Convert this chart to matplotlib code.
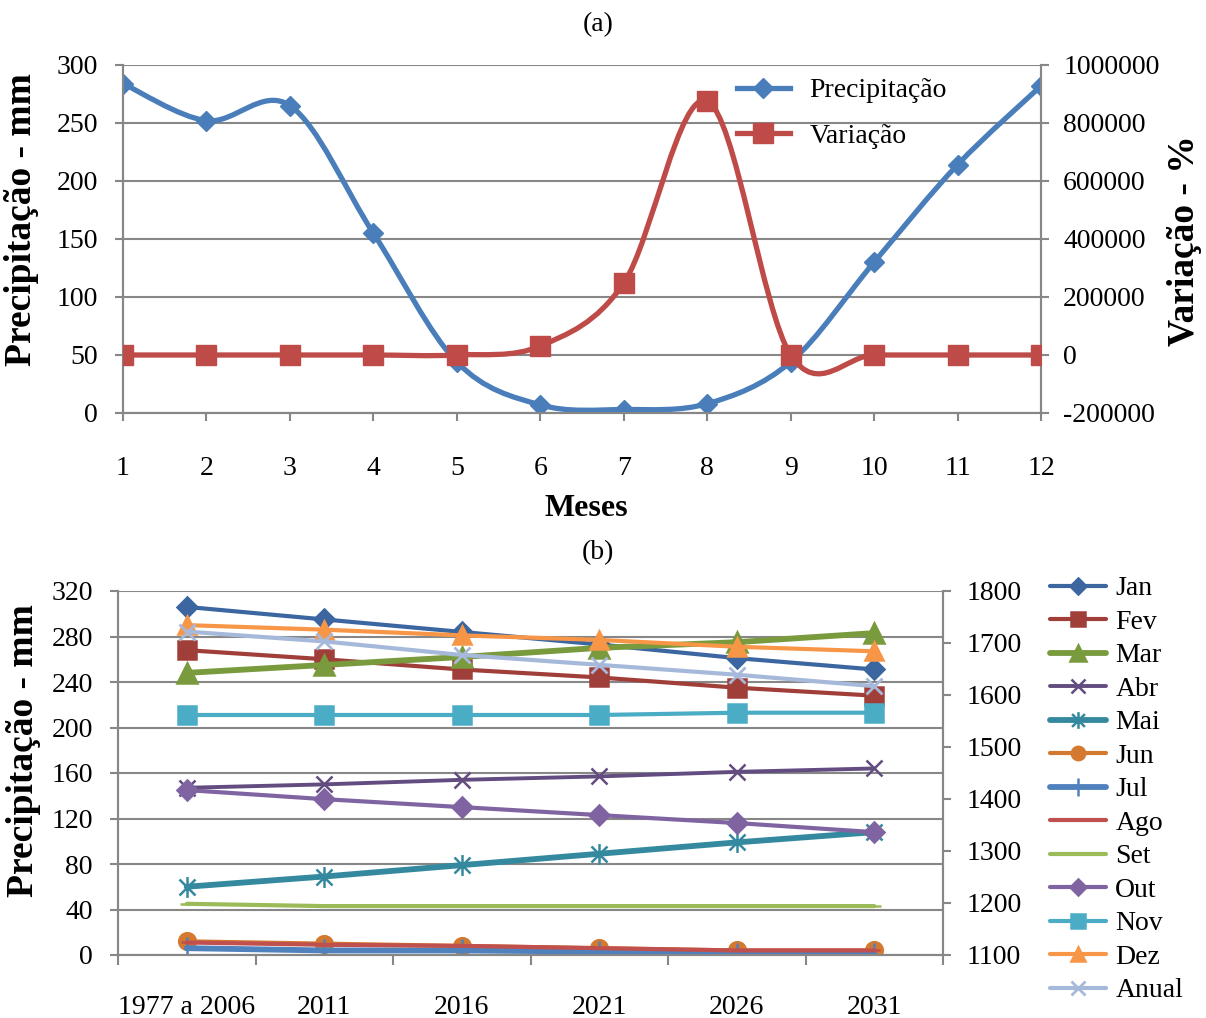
import numpy as np
import matplotlib
matplotlib.use("Agg")
import matplotlib.pyplot as plt
from matplotlib.path import Path
from matplotlib.patches import PathPatch
from matplotlib.lines import Line2D

plt.rcParams["font.family"] = ["Liberation Serif", "DejaVu Serif"]
plt.rcParams["axes.unicode_minus"] = False

# ---- (a) monthly data ----
meses = [1, 2, 3, 4, 5, 6, 7, 8, 9, 10, 11, 12]
precipitacao = [284, 252, 265, 155, 44, 7, 3, 8, 44, 130, 214, 282]
variacao = [0, 0, 0, 0, 0, 31000, 248000, 876000, 0, 0, 0, 0]

# ---- (b) projections ----
periodos = ["1977 a 2006", "2011", "2016", "2021", "2026", "2031"]
jan = [306, 295, 284, 273, 261, 251]
fev = [268, 260, 251, 244, 235, 228]
mar = [248, 255, 262, 270, 275, 283]
abr = [147, 150, 154, 157, 161, 164]
mai = [60, 69, 79, 89, 99, 108]
jun = [12, 10, 8, 6, 4, 4]
jul = [6, 4, 4, 3, 1, 1]
ago = [11, 9, 8, 6, 4, 4]
set_ = [45, 43, 43, 43, 43, 43]
out = [145, 137, 130, 123, 116, 108]
nov = [211, 211, 211, 211, 213, 213]
dez = [290, 286, 281, 277, 271, 267]
anual = [1722, 1703, 1677, 1658, 1639, 1617]

GRID = "#878787"
FS = 20
LBL = 23
YLBL = 27

asterisk = Path([(-1, -1), (1, 1), (-1, 1), (1, -1), (0, -1.3), (0, 1.3)],
                [Path.MOVETO, Path.LINETO, Path.MOVETO, Path.LINETO, Path.MOVETO, Path.LINETO])


def smooth_path(x, y):
    # Excel-style smoothed line (Catmull-Rom as cubic Bezier)
    pts = np.column_stack([x, y]).astype(float)
    ext = np.vstack([pts[0], pts, pts[-1]])
    verts = [pts[0]]
    codes = [Path.MOVETO]
    for i in range(len(pts) - 1):
        p0, p1, p2, p3 = ext[i], ext[i + 1], ext[i + 2], ext[i + 3]
        verts += [p1 + (p2 - p0) / 6, p2 - (p3 - p1) / 6, p2]
        codes += [Path.CURVE4] * 3
    return Path(verts, codes)


def style_axis(ax):
    for s in ax.spines.values():
        s.set_color(GRID)
        s.set_linewidth(1.5)
    ax.tick_params(colors=GRID, labelcolor="black", labelsize=FS, width=1.5, length=6)


fig = plt.figure(figsize=(12.06, 10.18), dpi=100)

# ================= (a) =================
ax1 = fig.add_axes([123 / 1206, 1 - 413 / 1018, 918 / 1206, 348 / 1018])
ax2 = ax1.twinx()
style_axis(ax1)
style_axis(ax2)

blue, red = "#4A7EBB", "#BE4B48"
ax1.add_patch(PathPatch(smooth_path(meses, precipitacao), fill=False, edgecolor=blue,
                        lw=3.8, capstyle="round", joinstyle="round", zorder=3))
ax1.plot(meses, precipitacao, ls="none", marker="D", ms=10, color=blue, zorder=4)
ax2.add_patch(PathPatch(smooth_path(meses, variacao), fill=False, edgecolor=red,
                        lw=3.8, capstyle="round", joinstyle="round", zorder=3))
ax2.plot(meses, variacao, ls="none", marker="s", ms=14, color=red, zorder=4)

ax1.set_xlim(1, 12)
ax1.set_ylim(0, 300)
ax2.set_ylim(-200000, 1000000)
ax1.set_xticks(meses)
ax1.set_yticks(range(0, 301, 50))
ax2.set_yticks(range(-200000, 1000001, 200000))
ax2.ticklabel_format(axis="y", style="plain", useOffset=False)
ax1.yaxis.grid(True, color=GRID, lw=1.5)
ax1.set_axisbelow(True)
ax1.spines["top"].set_visible(False)
ax2.spines["top"].set_visible(False)
ax1.tick_params(axis="x", pad=25, length=6)
ax1.tick_params(axis="y", pad=12)
ax2.tick_params(axis="y", pad=10)

handles_a = [Line2D([], [], color=blue, lw=3.8, marker="D", ms=10),
             Line2D([], [], color=red, lw=3.8, marker="s", ms=14)]
ax2.legend(handles_a, ["Precipitação", "Variação"], loc="upper left",
           bbox_to_anchor=(737 / 1206, 1 - 78 / 1018), bbox_transform=fig.transFigure,
           frameon=False, fontsize=FS, handlelength=1.9, handletextpad=0.7,
           labelspacing=0.72, borderpad=0, borderaxespad=0)

fig.text(598 / 1206, 1 - 25 / 1018, "(a)", ha="center", va="center", fontsize=FS)
fig.text(586 / 1206, 1 - 508 / 1018, "Meses", ha="center", va="center",
         fontsize=LBL, fontweight="bold")
fig.text(22 / 1206, 1 - 220 / 1018, "Precipitação - mm", ha="center", va="center",
         rotation=90, fontsize=YLBL, fontweight="bold")
fig.text(1184 / 1206, 1 - 241 / 1018, "Variação - %", ha="center", va="center",
         rotation=90, fontsize=YLBL, fontweight="bold")

# ================= (b) =================
bx1 = fig.add_axes([118 / 1206, 1 - 955 / 1018, 825 / 1206, 364 / 1018])
bx2 = bx1.twinx()
style_axis(bx1)
style_axis(bx2)

xs = np.arange(len(periodos))
series = [
    ("Jan", jan, "#3B66A0", "D", 3.0, 10),
    ("Fev", fev, "#A03E3A", "s", 3.0, 13),
    ("Mar", mar, "#7A9A3E", "^", 4.2, 15),
    ("Abr", abr, "#624C80", "x", 2.8, 12),
    ("Mai", mai, "#35899F", asterisk, 4.2, 15),
    ("Jun", jun, "#D47A30", "o", 3.0, 12),
    ("Jul", jul, "#4F81BD", "|", 4.2, 16),
    ("Ago", ago, "#C0504D", "_", 3.0, 8),
    ("Set", set_, "#9BBB59", "_", 3.0, 10),
    ("Out", out, "#8064A2", "D", 3.0, 10),
    ("Nov", nov, "#4BACC6", "s", 3.0, 13),
    ("Dez", dez, "#F79646", "^", 3.0, 13),
]
handles_b = []
for name, vals, col, mk, lw, ms in series:
    h, = bx1.plot(xs, vals, color=col, lw=lw, marker=mk, ms=ms, mew=1.8,
                  solid_capstyle="round", label=name, zorder=3)
    handles_b.append(h)
h, = bx2.plot(xs, anual, color="#A7B9DA", lw=3.0, marker="x", ms=12, mew=2,
              solid_capstyle="round", label="Anual", zorder=3)
handles_b.append(h)

bx1.set_xlim(-0.5, len(periodos) - 0.5)
bx1.set_ylim(0, 320)
bx2.set_ylim(1100, 1800)
bx1.set_yticks(range(0, 321, 40))
bx2.set_yticks(range(1100, 1801, 100))
bx1.set_xticks(np.arange(-0.5, len(periodos), 1.0))
bx1.set_xticklabels([])
bx1.set_xticks(xs, minor=True)
bx1.set_xticklabels(periodos, minor=True)
bx1.tick_params(axis="x", which="major", length=7, width=1.5)
bx1.tick_params(axis="x", which="minor", length=0, pad=29, labelsize=FS)
bx1.tick_params(axis="y", pad=12)
bx2.tick_params(axis="y", pad=11)
bx1.yaxis.grid(True, color=GRID, lw=1.5)
bx1.set_axisbelow(True)
bx1.spines["top"].set_visible(False)
bx2.spines["top"].set_visible(False)

bx2.legend(handles_b, [h.get_label() for h in handles_b], loc="upper left",
           bbox_to_anchor=(1050 / 1206, 1 - 576 / 1018), bbox_transform=fig.transFigure,
           frameon=False, fontsize=FS, handlelength=2.0, handletextpad=0.35,
           labelspacing=0.29, borderpad=0, borderaxespad=0, markerscale=0.8)

fig.text(598 / 1206, 1 - 553 / 1018, "(b)", ha="center", va="center", fontsize=FS)
fig.text(24 / 1206, 1 - 751 / 1018, "Precipitação - mm", ha="center", va="center",
         rotation=90, fontsize=YLBL, fontweight="bold")

fig.savefig("out.png", dpi=100)
